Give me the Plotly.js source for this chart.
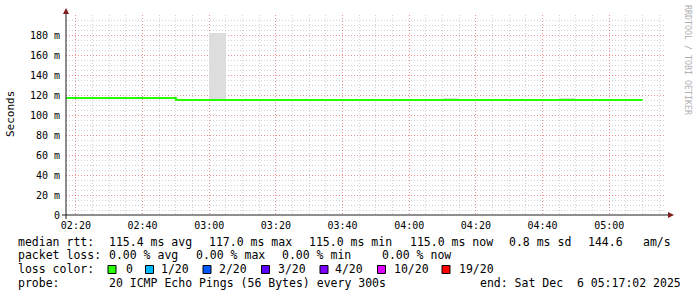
<!DOCTYPE html>
<html><head><meta charset="utf-8">
<script src="https://cdn.plot.ly/plotly-3.0.1.min.js"></script>
<style>html,body{margin:0;padding:0;background:#fff;}#c{width:697px;height:297px;}</style>
</head><body><div id="c"></div>
<script>
// Step start times (5-minute RRD steps); last entry closes the final step
const stepTimes = [
 "2025-12-06 02:15:00","2025-12-06 02:20:00","2025-12-06 02:25:00","2025-12-06 02:30:00",
 "2025-12-06 02:35:00","2025-12-06 02:40:00","2025-12-06 02:45:00","2025-12-06 02:50:00",
 "2025-12-06 02:55:00","2025-12-06 03:00:00","2025-12-06 03:05:00","2025-12-06 03:10:00",
 "2025-12-06 03:15:00","2025-12-06 03:20:00","2025-12-06 03:25:00","2025-12-06 03:30:00",
 "2025-12-06 03:35:00","2025-12-06 03:40:00","2025-12-06 03:45:00","2025-12-06 03:50:00",
 "2025-12-06 03:55:00","2025-12-06 04:00:00","2025-12-06 04:05:00","2025-12-06 04:10:00",
 "2025-12-06 04:15:00","2025-12-06 04:20:00","2025-12-06 04:25:00","2025-12-06 04:30:00",
 "2025-12-06 04:35:00","2025-12-06 04:40:00","2025-12-06 04:45:00","2025-12-06 04:50:00",
 "2025-12-06 04:55:00","2025-12-06 05:00:00","2025-12-06 05:05:00","2025-12-06 05:10:00"
];
// median RTT in ms
const medianRtt = [
 117,117,117,117,117,117,117,115,
 115,115,115,115,115,115,115,115,
 115,115,115,115,115,115,115,115,
 115,115,115,115,115,115,115,115,
 115,115,115,115
];
// max ping RTT in ms (smoke top)
const maxRtt = [
 117,117,117,117,117,117,117,115,
 115,182,115,115,115,115,115,115,
 115,115,115,115,115,115,115,117,
 115,115,115,115,115,115,117,115,
 115,115,115,115
];
const yTickVals = [0,20,40,60,80,100,120,140,160,180];
const yTickText = ["0","20 m","40 m","60 m","80 m","100 m","120 m","140 m","160 m","180 m"];
const xRange = ["2025-12-06 02:17:02","2025-12-06 05:17:02"];

const lossLabels = ["0","1/20","2/20","3/20","4/20","10/20","19/20"];
const lossColors = ["#26ff00","#00b8ff","#0059ff","#5e00ff","#7e00ff","#dd00ff","#ff0000"];

const line1 = ["median rtt:","115.4 ms avg","117.0 ms max","115.0 ms min","115.0 ms now","0.8 ms sd","144.6","am/s"];
const line2 = ["packet loss:","0.00 % avg","0.00 % max","0.00 % min","0.00 % now"];
const line4 = ["probe:","20 ICMP Echo Pings (56 Bytes) every 300s","end: Sat Dec\u00a0 6 05:17:02 2025"];

// layout geometry (pixels)
const L=66, T=15, PW=600, PH=200, W=697, H=297;
const px = p => (p - L)/PW;
const py = p => (T + PH - p)/PH;
const MONO = "DejaVu Sans Mono";

const line1X = [16,107,207,307,408,507,586,641];
const line2X = [16,107,194,280,380];
const line4X = [16,107,478];
const lossTextX = [123.5,159,217,275.7,333,391.7,456.7];
const lossBoxX = [108,145.5,203,261.5,320,377.5,442];

const ann = [];
const fs = 11.5;
function addRow(texts, xs, yc){
  texts.forEach((t,i)=>ann.push({xref:'paper',yref:'paper',x:px(xs[i]),y:py(yc),text:t,showarrow:false,
    xanchor:'left',yanchor:'middle',font:{family:MONO,size:fs,color:'#000'}}));
}
addRow(line1,line1X,241.5);
addRow(line2,line2X,255.2);
addRow(["loss color:"].concat(lossLabels),[16].concat(lossTextX),269);
addRow(line4,line4X,282.8);
ann.push({xref:'paper',yref:'paper',x:px(10.5),y:py(114.5),text:'Seconds',textangle:-90,showarrow:false,
  xanchor:'center',yanchor:'middle',font:{family:MONO,size:11,color:'#000'}});
ann.push({xref:'paper',yref:'paper',x:px(688),y:py(60),text:'RRDTOOL / TOBI OETIKER',textangle:90,showarrow:false,
  xanchor:'center',yanchor:'middle',font:{family:MONO,size:8.3,color:'#b0b0b0'}});

const shapes = [];
lossColors.forEach((c,i)=>shapes.push({type:'rect',xref:'paper',yref:'paper',
  x0:px(lossBoxX[i]),x1:px(lossBoxX[i]+8),y0:py(273.5),y1:py(265.5),
  fillcolor:c,line:{color:'#000',width:1}}));
// axes with arrows
const axisCol='#1f1f1f', arrowCol='#801f1f';
shapes.push({type:'line',xref:'paper',yref:'paper',x0:px(62),x1:px(669),y0:py(215),y1:py(215),line:{color:axisCol,width:1}});
shapes.push({type:'line',xref:'paper',yref:'paper',x0:px(66),x1:px(66),y0:py(219),y1:py(12),line:{color:axisCol,width:1}});
shapes.push({type:'path',xref:'paper',yref:'paper',
  path:`M ${px(668)} ${py(212)} L ${px(674)} ${py(215)} L ${px(668)} ${py(218)} Z`,fillcolor:arrowCol,line:{color:arrowCol,width:0}});
shapes.push({type:'path',xref:'paper',yref:'paper',
  path:`M ${px(63)} ${py(14)} L ${px(66)} ${py(8)} L ${px(69)} ${py(14)} Z`,fillcolor:arrowCol,line:{color:arrowCol,width:0}});

// minor grid positions that do not coincide with major ones
const yMinor = [];
for (let v=5; v<200; v+=5) if (v%20!==0) yMinor.push(v);
const xMinor = [];
const t0 = Date.UTC(2025,11,6,2,20,0);
for (let k=-1; k<38; k++) if (k%4!==0) {
  const d = new Date(t0 + k*300000);
  xMinor.push(d.toISOString().replace('T',' ').slice(0,19));
}

const traces = [
 {x:stepTimes,y:medianRtt,type:'scatter',mode:'lines',line:{width:0,shape:'hv'},hoverinfo:'skip',showlegend:false},
 {x:stepTimes,y:maxRtt,type:'scatter',mode:'lines',line:{width:0,shape:'hv'},fill:'tonexty',fillcolor:'#dddddd',hoverinfo:'skip',showlegend:false},
 {x:stepTimes,y:medianRtt,type:'scatter',mode:'lines',line:{width:2,shape:'hv',color:'#26ff00'},showlegend:false}
];

const minorGrid='rgba(140,140,140,0.38)', majorGrid='rgba(220,60,60,0.55)';
const layout = {
  width:W,height:H,margin:{l:L,r:W-L-PW,t:T,b:H-T-PH,pad:0},
  paper_bgcolor:'#fff',plot_bgcolor:'#fff',showlegend:false,
  xaxis:{type:'date',range:xRange,tick0:'2025-12-06 02:20:00',dtick:1200000,tickformat:'%H:%M',
    showgrid:true,gridcolor:majorGrid,griddash:'1px,2px',gridwidth:1,zeroline:false,showline:false,ticks:'',
    ticklabelstandoff:3,tickfont:{family:MONO,size:10,color:'#000'},
    minor:{tickmode:'array',tickvals:xMinor,showgrid:true,gridcolor:minorGrid,griddash:'1px,2px',gridwidth:1}},
  yaxis:{range:[0,200],tickmode:'array',tickvals:yTickVals,ticktext:yTickText,
    showgrid:true,gridcolor:majorGrid,griddash:'1px,2px',gridwidth:1,zeroline:false,showline:false,ticks:'',
    ticklabelstandoff:5,tickfont:{family:MONO,size:10,color:'#000'},
    minor:{tickmode:'array',tickvals:yMinor,showgrid:true,gridcolor:minorGrid,griddash:'1px,2px',gridwidth:1}},
  annotations:ann,shapes:shapes
};
Plotly.newPlot('c',traces,layout,{staticPlot:true,displayModeBar:false});
</script></body></html>
